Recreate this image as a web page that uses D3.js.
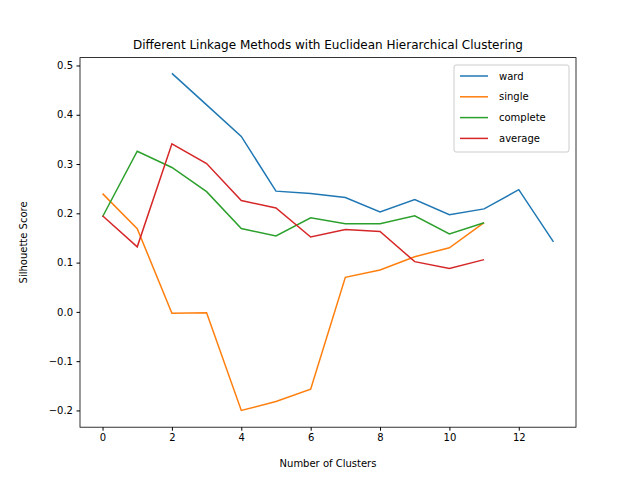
<!DOCTYPE html>
<html><head><meta charset="utf-8">
<script src="https://cdn.jsdelivr.net/npm/d3@7"></script>
<style>body{margin:0;background:#fff}text{font-family:"DejaVu Sans",sans-serif}</style>
</head><body><div id="chart"></div>
<script>
var wardX = [2,3,4,5,6,7,8,9,10,11,12,13];
var wardY = [0.484,0.42,0.356,0.245,0.24,0.232,0.203,0.228,0.197,0.209,0.248,0.142];
var otherX = [0,1,2,3,4,5,6,7,8,9,10,11];
var singleY = [0.24,0.169,-0.003,-0.002,-0.2,-0.182,-0.157,0.07,0.085,0.112,0.13,0.181];
var completeY = [0.193,0.326,0.293,0.244,0.169,0.154,0.191,0.179,0.179,0.195,0.158,0.181];
var averageY = [0.195,0.132,0.341,0.301,0.226,0.211,0.152,0.167,0.163,0.102,0.088,0.106];
var seriesNames = ["ward","single","complete","average"];
var colors = ["#1f77b4","#ff7f0e","#2ca02c","#d62728"];
var xTicks = [0,2,4,6,8,10,12];
var yTicks = [-0.2,-0.1,0.0,0.1,0.2,0.3,0.4,0.5];

var series = [
  {name: seriesNames[0], x: wardX, y: wardY},
  {name: seriesNames[1], x: otherX, y: singleY},
  {name: seriesNames[2], x: otherX, y: completeY},
  {name: seriesNames[3], x: otherX, y: averageY}
];

var svg = d3.select("#chart").append("svg").attr("width", 640).attr("height", 480);
var mLeft = 80, mRight = 576, mTop = 57.6, mBottom = 427.2;

var x = d3.scaleLinear().domain([-0.65, 13.65]).range([mLeft, mRight]);
var y = d3.scaleLinear().domain([-0.234, 0.516]).range([mBottom, mTop]);

var line = d3.line().x(d => x(d[0])).y(d => y(d[1]));
series.forEach(function(s, i) {
  svg.append("path")
    .datum(s.x.map((v, j) => [v, s.y[j]]))
    .attr("d", line)
    .attr("fill", "none")
    .attr("stroke", colors[i])
    .attr("stroke-width", 1.5);
});

svg.append("g").attr("transform", `translate(0,${mBottom})`)
  .call(d3.axisBottom(x).tickValues(xTicks).tickSize(3.5).tickPadding(3.5).tickFormat(d3.format("d")))
  .call(g => g.select(".domain").remove())
  .selectAll("text").attr("font-size", 10).attr("fill", "#000");
svg.append("g").attr("transform", `translate(${mLeft},0)`)
  .call(d3.axisLeft(y).tickValues(yTicks).tickSize(3.5).tickPadding(3.5)
    .tickFormat(d => d3.format(".1f")(d).replace("-", "\u2212")))
  .call(g => g.select(".domain").remove())
  .selectAll("text").attr("font-size", 10).attr("fill", "#000");

svg.append("rect").attr("x", mLeft).attr("y", mTop).attr("width", mRight - mLeft).attr("height", mBottom - mTop)
  .attr("fill", "none").attr("stroke", "#000").attr("stroke-width", 0.8);

svg.append("text").attr("x", (mLeft + mRight) / 2).attr("y", 49).attr("text-anchor", "middle")
  .attr("font-size", 12).text("Different Linkage Methods with Euclidean Hierarchical Clustering");
svg.append("text").attr("x", (mLeft + mRight) / 2).attr("y", 467).attr("text-anchor", "middle")
  .attr("font-size", 10).text("Number of Clusters");
svg.append("text").attr("transform", `translate(27,${(mTop + mBottom) / 2}) rotate(-90)`)
  .attr("text-anchor", "middle").attr("font-size", 10).text("Silhouette Score");

var legend = svg.append("g").attr("transform", "translate(454,65)");
legend.append("rect").attr("width", 115).attr("height", 87).attr("rx", 2)
  .attr("fill", "#fff").attr("fill-opacity", 0.8).attr("stroke", "#ccc");
seriesNames.forEach(function(n, i) {
  var yy = 11 + i * 20.8;
  legend.append("line").attr("x1", 6).attr("x2", 34).attr("y1", yy).attr("y2", yy)
    .attr("stroke", colors[i]).attr("stroke-width", 1.5);
  legend.append("text").attr("x", 45).attr("y", yy + 3.5).attr("font-size", 10).text(n);
});
</script></body></html>
